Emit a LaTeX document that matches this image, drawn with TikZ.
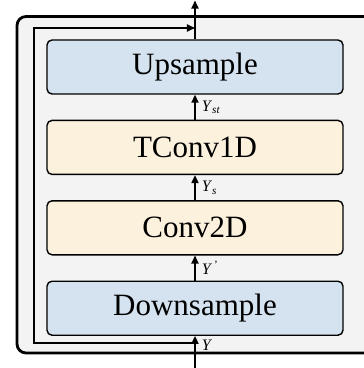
\documentclass[tikz,border=0pt]{standalone}
\usepackage{fontspec}
\setmainfont{Liberation Serif}
\usepackage{xcolor}
\usepackage{tikz}
\usetikzlibrary{positioning,arrows.meta,calc}
\definecolor{blkblue}{HTML}{D5E3F0}
\definecolor{blkyellow}{HTML}{FBF1DC}
\definecolor{panelgray}{HTML}{F3F3F3}
\newcommand{\sig}[2]{\textit{#1}\textsubscript{\itshape #2}}
\tikzset{
  blk/.style   ={draw, rectangle, rounded corners=5pt, line width=1.4pt, align=center, minimum height=54pt, minimum width=296pt, font=\fontsize{31}{35}\selectfont},
  panel/.style ={draw, line width=2.8pt, rounded corners=9pt, fill=panelgray},
  arr/.style   ={-{Triangle[length=8pt, width=7pt]}, line width=1.8pt},
  lbl/.style   ={right, inner sep=1pt, xshift=5pt, font=\fontsize{16}{18}\selectfont},
}

\begin{document}
\begin{tikzpicture}[x=1pt, y=1pt]
  \useasboundingbox (0,0) rectangle (364,368);
  \draw[panel] (17,15) rectangle (380,351.5);

  \node[blk, fill=blkblue] (up) at (195,301) {Upsample};
  \node[blk, fill=blkyellow, below=25pt of up] (tconv) {TConv1D};
  \node[blk, fill=blkyellow, below=25pt of tconv] (conv) {Conv2D};
  \node[blk, fill=blkblue, below=25pt of conv] (down) {Downsample};

  \coordinate (in)       at (195,-2);
  \coordinate (out)      at (195,367.5);
  \coordinate (skipbot)  at (195,25);
  \coordinate (skipleft) at (34,25);
  \coordinate (skiptop)  at (195,340);

  % main path through the blocks
  \draw[arr] (in) -- (down.south) node[lbl, pos=0.72] {\textit{Y}};
  \draw[arr] (down.north) -- (conv.south) node[lbl, midway] {\textit{Y}\textsuperscript{\,'}};
  \draw[arr] (conv.north) -- (tconv.south) node[lbl, midway] {\sig{Y}{s}};
  \draw[arr] (tconv.north) -- (up.south) node[lbl, midway] {\sig{Y}{st}};
  \draw[arr] (up.north) -- (out);

  % residual path round the blocks
  \draw[arr] (skipbot) -- (skipleft) |- (skiptop);
\end{tikzpicture}
\end{document}
